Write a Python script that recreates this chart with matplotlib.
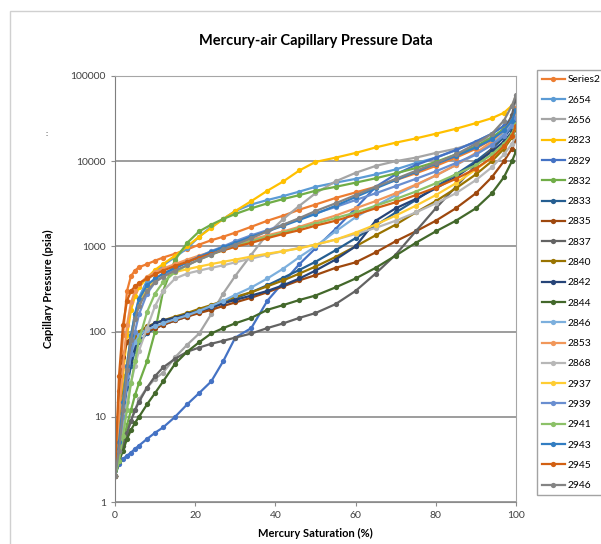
import matplotlib.pyplot as plt
from matplotlib.patches import Rectangle

# saturation grid (%) shared by every sample
sat = [0, 1, 2, 3, 4, 5, 6, 8, 10, 12, 15, 18, 21, 24, 27, 30, 34, 38, 42, 46,
       50, 55, 60, 65, 70, 75, 80, 85, 90, 94, 97, 99, 100]

names = ["Series2", "2654", "2656", "2823", "2829", "2832", "2833", "2835", "2837",
         "2840", "2842", "2844", "2846", "2853", "2868", "2937", "2939", "2941",
         "2943", "2945", "2946"]

colors = ["#ED7D31", "#5B9BD5", "#A5A5A5", "#FFC000", "#4472C4", "#70AD47", "#255E91",
          "#9E480E", "#636363", "#997300", "#264478", "#43682B", "#7CAFDD", "#F1975A",
          "#B7B7B7", "#FFCD33", "#698ED0", "#8CC168", "#327DC2", "#D26012", "#848484"]

# capillary pressure (psia) at each saturation
p_series2 = [2, 20, 90, 300, 450, 520, 570, 620, 680, 740, 820, 920, 1050, 1180, 1300, 1450, 1700,
             2000, 2300, 2700, 3100, 3700, 4300, 5000, 6000, 7200, 8800, 11000, 14000, 18000,
             24000, 32000, 42000]
p_2654 = [2, 6, 15, 40, 90, 160, 250, 400, 500, 600, 750, 950, 1300, 1700, 2100, 2600, 3100, 3500,
          3900, 4400, 5000, 5600, 6200, 7000, 8000, 9500, 11000, 13500, 17000, 21000, 26000,
          32000, 38000]
p_2656 = [2, 3, 4.5, 6.5, 9, 12, 16, 22, 28, 33, 50, 70, 95, 160, 280, 450, 800, 1400, 2100, 3000,
          4200, 5800, 7300, 8800, 10000, 11000, 12500, 14000, 16500, 19000, 23000, 28000, 33000]
p_2823 = [2, 8, 30, 90, 180, 260, 330, 430, 530, 620, 780, 1000, 1300, 1650, 2100, 2600, 3400,
          4500, 5800, 7800, 9800, 11000, 12500, 14500, 16500, 18500, 21000, 24000, 28000, 32000,
          37000, 45000, 55000]
p_2829 = [2, 2.8, 3.2, 3.5, 3.8, 4.2, 4.6, 5.5, 6.5, 7.5, 10, 14, 19, 26, 45, 85, 110, 230, 380,
          620, 950, 1600, 2800, 5000, 7000, 9000, 11000, 13500, 17000, 21000, 26000, 32000, 40000]
p_2832 = [2, 3, 5, 8, 12, 18, 25, 45, 100, 300, 700, 1100, 1500, 1800, 2100, 2400, 2800, 3200,
          3600, 4000, 4500, 5000, 5600, 6300, 7200, 8300, 9800, 12000, 15000, 19000, 24000,
          30000, 36000]
p_2833 = [2, 4, 10, 22, 40, 60, 75, 95, 110, 120, 135, 150, 170, 190, 215, 245, 290, 350, 430,
          530, 660, 900, 1250, 1750, 2500, 3500, 5000, 7000, 10000, 14000, 19000, 25000, 32000]
p_2835 = [2, 15, 50, 75, 85, 90, 95, 100, 110, 120, 135, 150, 165, 180, 200, 220, 250, 290, 340,
          400, 460, 560, 650, 850, 1150, 1500, 2000, 2800, 4200, 6500, 10000, 14000, 18000]
p_2837 = [2, 3, 4.5, 6.5, 9, 12, 15, 22, 30, 38, 48, 58, 65, 72, 78, 85, 95, 110, 125, 145, 165,
          210, 300, 480, 800, 1500, 2800, 5000, 9000, 14000, 22000, 35000, 55000]
p_2840 = [2, 6, 18, 40, 65, 85, 100, 115, 125, 135, 150, 165, 185, 205, 230, 255, 290, 340, 400,
          480, 580, 750, 1000, 1350, 1800, 2500, 3400, 4800, 7000, 10000, 14000, 19000, 24000]
p_2842 = [2, 5, 12, 25, 45, 65, 85, 110, 125, 135, 145, 160, 175, 195, 215, 235, 265, 300, 350,
          420, 520, 700, 1000, 2000, 2800, 3600, 4800, 6500, 9500, 13000, 17000, 22000, 28000]
p_2844 = [2, 3, 4, 5.5, 7, 8.5, 10, 14, 19, 26, 42, 58, 75, 95, 110, 125, 145, 180, 205, 235, 265,
          330, 420, 560, 780, 1100, 1500, 2000, 2800, 4200, 6500, 10000, 13000]
p_2846 = [2, 5, 14, 30, 55, 75, 90, 105, 115, 125, 140, 155, 175, 200, 230, 270, 330, 420, 550,
          750, 1000, 1500, 2200, 3000, 4000, 5200, 6800, 9000, 12000, 16000, 21000, 27000, 34000]
p_2853 = [2, 10, 40, 120, 220, 300, 360, 440, 500, 550, 620, 700, 780, 860, 950, 1050, 1200, 1350,
          1500, 1700, 1950, 2300, 2800, 3400, 4200, 5300, 6800, 9000, 12500, 17000, 23000,
          30000, 38000]
p_2868 = [2, 4, 8, 15, 25, 40, 60, 110, 200, 300, 420, 480, 520, 560, 600, 650, 720, 800, 880,
          960, 1050, 1200, 1400, 1650, 2000, 2500, 3200, 4200, 6000, 8500, 12000, 16000, 20000]
p_2937 = [2, 5, 15, 40, 90, 150, 220, 330, 400, 450, 500, 540, 580, 620, 660, 700, 760, 820, 880,
          950, 1050, 1200, 1450, 1800, 2300, 3000, 4000, 5500, 8000, 11000, 15000, 20000, 26000]
p_2939 = [2, 4, 10, 25, 55, 100, 160, 280, 380, 450, 550, 650, 760, 880, 1000, 1150, 1350, 1550,
          1800, 2100, 2450, 2900, 3500, 4200, 5100, 6200, 7600, 9500, 12000, 15500, 20000, 26000,
          32000]
p_2941 = [2, 3, 6, 12, 25, 45, 80, 170, 280, 380, 500, 600, 700, 800, 900, 1000, 1150, 1300, 1450,
          1650, 1850, 2150, 2500, 3000, 3600, 4400, 5500, 7000, 9000, 12000, 16000, 21000, 27000]
p_2943 = [2, 5, 15, 40, 90, 160, 240, 350, 420, 480, 560, 650, 750, 860, 980, 1100, 1300, 1500,
          1750, 2050, 2400, 3000, 3800, 4800, 6000, 7500, 9300, 11500, 14500, 18000, 23000, 30000,
          40000]
p_2945 = [2, 30, 120, 230, 300, 340, 370, 420, 470, 520, 590, 660, 740, 820, 900, 990, 1100, 1250,
          1400, 1550, 1750, 2000, 2350, 2800, 3300, 4000, 4900, 6200, 8200, 11000, 15000, 20000,
          26000]
p_2946 = [2, 4, 12, 35, 80, 140, 200, 300, 380, 440, 520, 600, 700, 800, 920, 1050, 1250, 1500,
          1800, 2150, 2600, 3200, 4000, 5000, 6200, 7700, 9500, 12000, 16000, 21000, 30000, 45000,
          60000]

pressures = [p_series2, p_2654, p_2656, p_2823, p_2829, p_2832, p_2833, p_2835, p_2837, p_2840,
             p_2842, p_2844, p_2846, p_2853, p_2868, p_2937, p_2939, p_2941, p_2943, p_2945, p_2946]

plt.rcParams['font.family'] = ['Lato', 'DejaVu Sans']

fig = plt.figure(figsize=(6.01, 5.44), dpi=100)
ax = fig.add_axes([0.1913, 0.0772, 0.6672, 0.7831])

# outer chart border
fig.patches.append(Rectangle((10 / 601, -0.5), 2, 1.5 - 11 / 544, transform=fig.transFigure,
                             fill=False, edgecolor="#d0d0d0", linewidth=1))

for name, col, p in zip(names, colors, pressures):
    ax.plot(sat, p, color=col, linewidth=1.6, marker="o", markersize=3.8,
            markeredgewidth=0, label=name)

ax.set_yscale("log")
ax.set_ylim(1, 100000)
ax.set_xlim(0, 100)
ax.set_xticks([0, 20, 40, 60, 80, 100])
ax.set_yticks([1, 10, 100, 1000, 10000, 100000])
ax.set_yticklabels(["1", "10", "100", "1000", "10000", "100000"])
ax.minorticks_off()
ax.yaxis.grid(True, color="#8c8c8c", linewidth=1.2)
ax.set_axisbelow(True)
ax.tick_params(labelsize=7.5, colors="#404040", length=3, color="#8c8c8c")
for s in ["top", "right"]:
    ax.spines[s].set_color("#a6a6a6")
ax.spines["left"].set_color("#7f7f7f")
ax.spines["bottom"].set_color("#8c8c8c")

ax.set_title("Mercury-air Capillary Pressure Data", fontsize=10.5, fontweight="bold", pad=22)
ax.set_xlabel("Mercury Saturation (%)", fontsize=8, fontweight="bold", labelpad=6)
ax.set_ylabel("Capillary Pressure (psia)", fontsize=8, fontweight="bold", labelpad=12)
fig.text(47 / 601, 1 - 133 / 544, ":", fontsize=6, ha="center", va="center", color="#404040")

leg = fig.legend(loc="upper left", bbox_to_anchor=(537 / 601, 1 - 70 / 544), fontsize=7.4,
                 frameon=True, fancybox=False, edgecolor="#8c8c8c", handlelength=2.2,
                 handletextpad=0.3, labelspacing=1.08, borderpad=0.5, borderaxespad=0)
leg.get_frame().set_linewidth(1)

plt.savefig("out.png", dpi=100)
